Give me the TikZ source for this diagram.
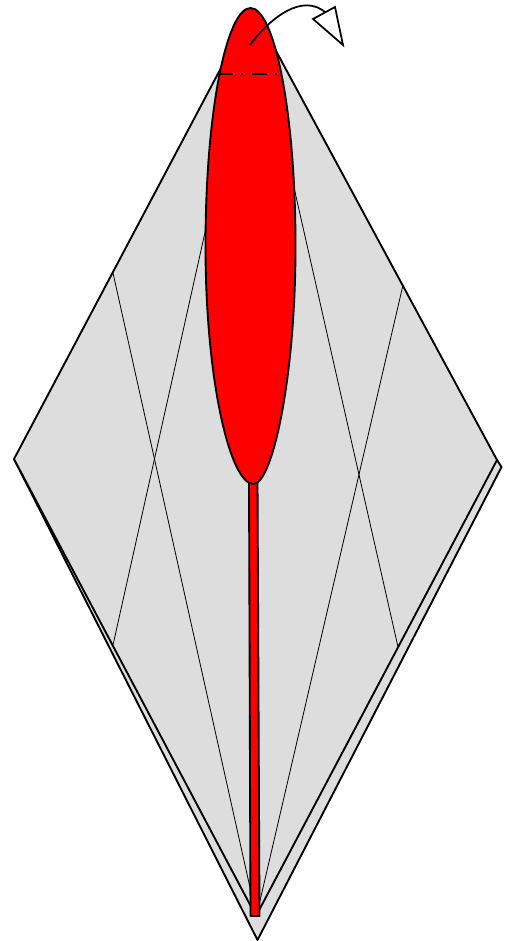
\documentclass[tikz,border=0pt]{standalone}
\definecolor{paper}{rgb}{0.867,0.867,0.867}
\tikzset{
  edge/.style={draw=black,line width=1.4pt,line join=round},
  crease/.style={draw=black,line width=0.6pt},
}
\begin{document}
\begin{tikzpicture}[x=0.75pt,y=0.75pt,yscale=-1,xscale=1]
\useasboundingbox (0,0) rectangle (504,941);

%Shape: Back layer
\draw [edge,fill=paper] (14,459) -- (257.5,940) -- (501.5,467) -- (497,460) -- cycle ;
%Shape: Front diamond
\draw [edge,fill=paper] (14,459) -- (240,32) -- (255,12) -- (497,460) -- (256,916) -- cycle ;
%Straight Lines: creases
\draw [crease] (113,273) -- (251,892) ;
\draw [crease] (210,210) -- (113,645) ;
\draw [crease] (290,170) -- (398,647) ;
\draw [crease] (403,285) -- (259,905) ;

%Shape: Stem
\draw [edge,fill=red] (249,480) -- (250.5,916) -- (259.5,916) -- (257.5,480) -- cycle ;
%Shape: Ellipse
\draw [edge,fill=red] (250.5,8) .. controls (274,8) and (295.5,110) .. (295.5,246) .. controls (295.5,380) and (272,484) .. (253.5,484) .. controls (230,484) and (205.5,380) .. (205.5,246) .. controls (205.5,110) and (227,8) .. (250.5,8) -- cycle ;

%Straight Lines: fold mark
\draw [line width=1.2pt,dash pattern={on 11.5pt off 5.5pt on 2pt off 6.5pt}] (218,74) -- (277,74) ;
%Curve: turn over arrow
\draw [line width=1.3pt] (250,45) .. controls (270,18) and (303,-8) .. (326,13) ;
%Shape: Arrow head
\draw [line width=1.3pt,line join=miter,fill=white] (313,19) -- (335,7) -- (343,45) -- cycle ;

\end{tikzpicture}
\end{document}
